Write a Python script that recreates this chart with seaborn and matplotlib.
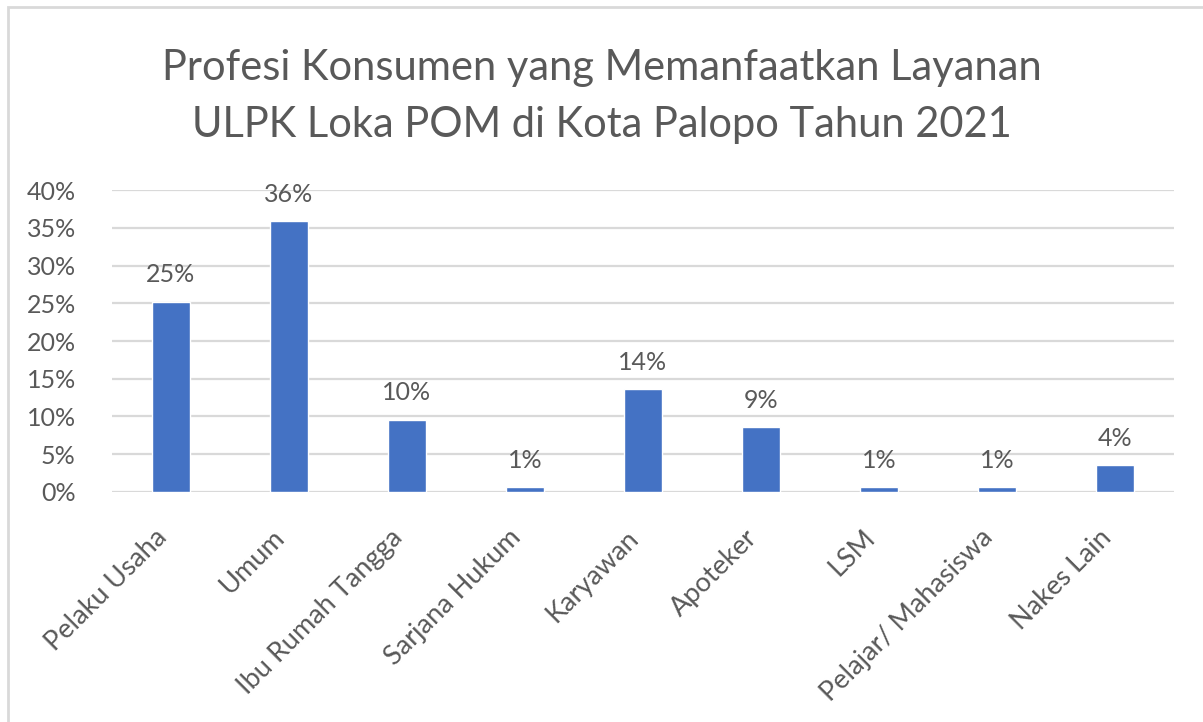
import matplotlib
matplotlib.use("Agg")
import matplotlib.pyplot as plt
import matplotlib.transforms as mtransforms
import seaborn as sns
import pandas as pd
from matplotlib.patches import Rectangle
from matplotlib.ticker import FuncFormatter

categories = ['Pelaku Usaha', 'Umum', 'Ibu Rumah Tangga', 'Sarjana Hukum', 'Karyawan',
              'Apoteker', 'LSM', 'Pelajar/ Mahasiswa', 'Nakes Lain']
shares = [0.252, 0.359, 0.096, 0.006, 0.136, 0.086, 0.006, 0.006, 0.036]
yticks = [0, 0.05, 0.10, 0.15, 0.20, 0.25, 0.30, 0.35, 0.40]

df = pd.DataFrame({'profesi': categories, 'persen': shares})

sns.set_theme(style='white')
plt.rcParams['font.family'] = ['Lato', 'DejaVu Sans']
text_color = '#595959'

fig = plt.figure(figsize=(12.03, 7.22), dpi=100)
ax = fig.add_axes([0.093, 0.3186, 0.883, 0.4182])

sns.barplot(data=df, x='profesi', y='persen', color='#4472C4', width=0.32,
            saturation=1, ax=ax)

ax.set_ylim(0, 0.40)
ax.set_yticks(yticks)
ax.yaxis.set_major_formatter(FuncFormatter(lambda v, p: f'{v:.0%}'))
ax.grid(axis='y', color='#D9D9D9', linewidth=1.6)
ax.set_axisbelow(True)
for s in ax.spines.values():
    s.set_visible(False)
ax.set_xlabel('')
ax.set_ylabel('')
ax.tick_params(axis='y', labelsize=18, labelcolor=text_color, pad=26, length=0)
ax.tick_params(axis='x', labelsize=19.5, labelcolor=text_color, length=0, pad=28)
# nudge rotated labels a bit left/down, like the Excel layout
shift = mtransforms.ScaledTranslation(-8 / 100, -3 / 100, fig.dpi_scale_trans)
for lab in ax.get_xticklabels():
    lab.set_rotation(45)
    lab.set_ha('right')
    lab.set_va('center')
    lab.set_rotation_mode('anchor')
    lab.set_transform(lab.get_transform() + shift)

# data labels above bars
for bar, v in zip(ax.patches, shares):
    ax.annotate(f'{v:.0%}', (bar.get_x() + bar.get_width() / 2, bar.get_height()),
                xytext=(0, 11), textcoords='offset points', ha='center', va='bottom',
                fontsize=18, color=text_color)

fig.text(0.5, 0.866, 'Profesi Konsumen yang Memanfaatkan Layanan\nULPK Loka POM di Kota Palopo Tahun 2021',
         ha='center', va='center', fontsize=30, color=text_color, linespacing=1.62)

# chart border (cropped on right and bottom)
fig.patches.append(Rectangle((8 / 1203, -0.05), 1.2, 1 - 7 / 722 + 0.05, transform=fig.transFigure,
                             fill=False, edgecolor='#D9D9D9', linewidth=2))

fig.savefig('out.png', dpi=100, facecolor='white')
